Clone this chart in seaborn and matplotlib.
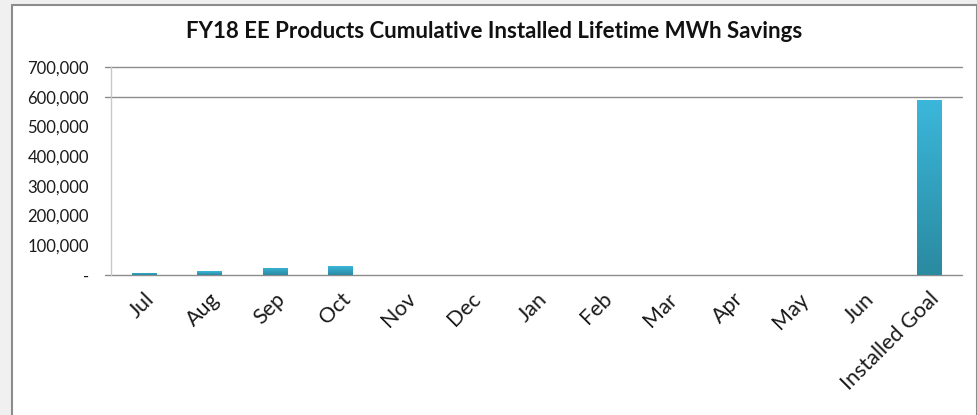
import numpy as np
import matplotlib.pyplot as plt
import seaborn as sns
from matplotlib.patches import Rectangle
from matplotlib.colors import LinearSegmentedColormap
from matplotlib.ticker import FuncFormatter

# data
months = ['Jul', 'Aug', 'Sep', 'Oct', 'Nov', 'Dec', 'Jan', 'Feb', 'Mar', 'Apr', 'May', 'Jun', 'Installed Goal']
savings = [8000, 12000, 25000, 30000, 0, 0, 0, 0, 0, 0, 0, 0, 588000]
title = 'FY18 EE Products Cumulative Installed Lifetime MWh Savings'

sns.set_style('white')
plt.rcParams['font.family'] = ['Lato', 'DejaVu Sans']

fig = plt.figure(figsize=(9.78, 4.15), dpi=100, facecolor='#f0f0f0')
# white chart frame with grey border
fig.patches.append(Rectangle((12 / 978, -0.05), 965 / 978, 1.05 - 5 / 415,
                             transform=fig.transFigure, facecolor='white',
                             edgecolor='#8c8c8c', linewidth=1.5, zorder=-5))

ax = fig.add_axes([111 / 978, 140 / 415, 851 / 978, 208 / 415])
ax.set_zorder(2)
ax.set_facecolor('none')

sns.barplot(x=months, y=savings, ax=ax, width=0.37, color='#33a5c4', saturation=1)

# vertical gradient inside each bar
cmap = LinearSegmentedColormap.from_list('bar', ['#2a8aa0', '#3bb7db'])
grad = np.linspace(0, 1, 256).reshape(-1, 1)
for p in ax.patches:
    h = p.get_height()
    if h <= 0:
        continue
    x0 = p.get_x()
    w = p.get_width()
    im = ax.imshow(grad, cmap=cmap, origin='lower', aspect='auto',
                   extent=[x0, x0 + w, 0, h], zorder=3)
    im.set_clip_path(p)
    p.set_edgecolor('#d0d8dc')
    p.set_linewidth(0.6)

n = len(months)
ax.set_xlim(-0.5, n - 0.5)
ax.set_ylim(0, 700000)
ax.set_yticks(np.arange(0, 700001, 100000))
ax.yaxis.set_major_formatter(FuncFormatter(lambda v, _: '-' if v == 0 else f'{int(v):,}'))
ax.tick_params(axis='y', length=0, pad=16, labelsize=12, labelcolor='#1a1a1a')

# gridlines (only 600k and 700k visible in the original) and axis line
ytr = ax.get_yaxis_transform()
for yv in [0, 600000, 700000]:
    ax.plot([-0.007, 1], [yv, yv], transform=ytr, color='#8c8c8c', lw=1.0,
            clip_on=False, zorder=1)

for s in ['top', 'right', 'bottom']:
    ax.spines[s].set_visible(False)
ax.spines['left'].set_color('#c8c8c8')
ax.spines['left'].set_linewidth(1.0)

# category boundary tick marks below the axis
ax.set_xticks(np.arange(n))
ax.set_xticks(np.arange(-0.5, n, 1), minor=True)
ax.tick_params(axis='x', which='major', length=0, pad=10, labelsize=15.5, labelcolor='#1a1a1a')
ax.tick_params(axis='x', which='minor', length=7, width=1, color='#c8c8c8', direction='out')
ax.set_xticklabels(months, rotation=45, ha='right', rotation_mode='anchor')

fig.text(494 / 978, 1 - 32 / 415, title, ha='center', va='center',
         fontsize=16, fontweight='bold', color='#111111')

fig.savefig('out.png', dpi=100, facecolor=fig.get_facecolor())
